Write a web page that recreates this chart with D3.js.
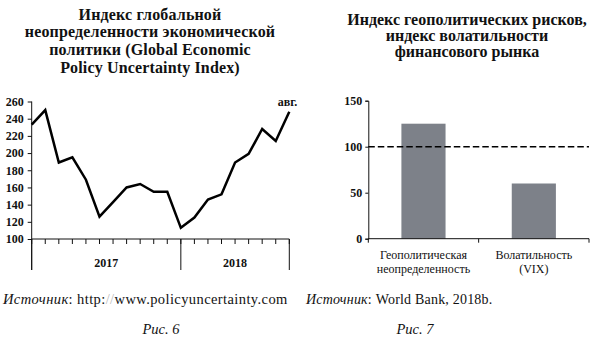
<!DOCTYPE html>
<html>
<head>
<meta charset="utf-8">
<script src="https://cdn.jsdelivr.net/npm/d3@7"></script>
<style>
  html, body { margin: 0; padding: 0; background: #fff; }
  svg { display: block; }
  text { font-family: "Liberation Serif", "Times New Roman", serif; fill: #111; }
</style>
</head>
<body>
<svg id="chart" width="595" height="341"></svg>
<script>
// Figure 6: Global Economic Policy Uncertainty Index, monthly Jan 2017 – Aug 2018
const months = ["янв.17","фев.17","мар.17","апр.17","май.17","июн.17","июл.17","авг.17","сен.17","окт.17","ноя.17","дек.17",
                "янв.18","фев.18","мар.18","апр.18","май.18","июн.18","июл.18","авг.18"];
const gepu = [233, 250, 189, 195, 169, 126, 143, 160, 164, 155, 155, 113,
              125, 146, 152, 189, 199, 228, 214, 248];
const gepuTicks = [100, 120, 140, 160, 180, 200, 220, 240, 260];
const years = [{label: "2017", from: 0, to: 11}, {label: "2018", from: 11, to: 19}];
const lastLabel = "авг.";

// Figure 7: geopolitical risk index vs. market volatility
const riskCats = ["Геополитическая\nнеопределенность", "Волатильность\n(VIX)"];
const riskVals = [125, 60];
const riskTicks = [0, 50, 100, 150];
const riskRef = 100;

const FONT = '"Liberation Serif", "Times New Roman", serif';
const svg = d3.select("#chart");

// ---------- Left panel ----------
const L = {x0: 31.7, x1: 289.3, y0: 239, y1: 101.5};
const xL = d3.scalePoint().domain(d3.range(months.length)).range([L.x0, L.x1]);
const yL = d3.scaleLinear().domain([100, 260]).range([L.y0, L.y1]);

const leftTitle = ["Индекс глобальной", "неопределенности экономической",
                   "политики (Global Economic", "Policy Uncertainty Index)"];
svg.append("text").attr("x", 150).attr("y", 19.5)
  .attr("text-anchor", "middle").attr("font-weight", "bold").attr("font-size", 16)
  .attr("letter-spacing", 0.15)
  .selectAll("tspan").data(leftTitle).join("tspan")
  .attr("x", 150).attr("dy", (d, i) => i ? 17.8 : 0).text(d => d);

const gL = svg.append("g");
// y axis
const yAxisL = d3.axisLeft(yL).tickValues(gepuTicks).tickSize(4).tickPadding(4);
gL.append("g").attr("transform", `translate(${L.x0},0)`).call(yAxisL)
  .call(g => g.select(".domain").remove())
  .call(g => g.selectAll("line").attr("stroke", "#111"))
  .call(g => g.selectAll("text").attr("font-size", 12).attr("font-weight", "bold").style("font-family", FONT));
gL.append("line").attr("x1", L.x0).attr("x2", L.x0).attr("y1", L.y1).attr("y2", 270)
  .attr("stroke", "#111").attr("stroke-width", 1);

// x axis with month ticks
gL.append("line").attr("x1", L.x0).attr("x2", L.x1).attr("y1", L.y0).attr("y2", L.y0)
  .attr("stroke", "#111").attr("stroke-width", 1);
gL.append("g").selectAll("line").data(d3.range(months.length)).join("line")
  .attr("x1", d => xL(d)).attr("x2", d => xL(d)).attr("y1", L.y0).attr("y2", L.y0 + 5)
  .attr("stroke", "#111").attr("stroke-width", 1);
// year separators and labels
gL.append("g").selectAll("line").data([years[0].from, years[0].to, years[1].to]).join("line")
  .attr("x1", d => xL(d)).attr("x2", d => xL(d)).attr("y1", L.y0).attr("y2", 270)
  .attr("stroke", "#111").attr("stroke-width", 1);
gL.append("g").selectAll("text").data(years).join("text")
  .attr("x", d => (xL(d.from) + xL(d.to)) / 2).attr("y", 267)
  .attr("text-anchor", "middle").attr("font-size", 12).attr("font-weight", "bold")
  .text(d => d.label);

// the index line
gL.append("path").datum(gepu)
  .attr("fill", "none").attr("stroke", "#000").attr("stroke-width", 2.5)
  .attr("stroke-linejoin", "miter")
  .attr("d", d3.line().x((d, i) => xL(i)).y(d => yL(d)));
gL.append("text").attr("x", xL(months.length - 1) + 8).attr("y", 106)
  .attr("text-anchor", "end").attr("font-size", 12).attr("font-weight", "bold")
  .text(lastLabel);

// ---------- Right panel ----------
const R = {x0: 368.3, x1: 589, y0: 238.7, y1: 100.7};
const xR = d3.scaleBand().domain(riskCats).range([R.x0, R.x1]).padding(0);
const yR = d3.scaleLinear().domain([0, 150]).range([R.y0, R.y1]);

const rightTitle = ["Индекс геополитических рисков,", "индекс волатильности", "финансового рынка"];
svg.append("text").attr("x", 467).attr("y", 25)
  .attr("text-anchor", "middle").attr("font-weight", "bold").attr("font-size", 16)
  .selectAll("tspan").data(rightTitle).join("tspan")
  .attr("x", 467).attr("dy", (d, i) => i ? 16 : 0).text(d => d);

const gR = svg.append("g");
gR.append("g").attr("transform", `translate(${R.x0},0)`)
  .call(d3.axisLeft(yR).tickValues(riskTicks).tickSize(3).tickPadding(3))
  .call(g => g.select(".domain").attr("stroke", "#111"))
  .call(g => g.selectAll("line").attr("stroke", "#111"))
  .call(g => g.selectAll("text").attr("font-size", 12).attr("font-weight", "bold").style("font-family", FONT));

// bars
const barW = xR.bandwidth() * 0.4;
gR.append("g").selectAll("rect").data(riskVals).join("rect")
  .attr("x", (d, i) => xR(riskCats[i]) + (xR.bandwidth() - barW) / 2)
  .attr("width", barW)
  .attr("y", d => yR(d)).attr("height", d => yR(0) - yR(d))
  .attr("fill", "#7d8189");

// x axis with ticks at category boundaries
gR.append("line").attr("x1", R.x0).attr("x2", R.x1).attr("y1", R.y0).attr("y2", R.y0)
  .attr("stroke", "#111");
gR.append("g").selectAll("line")
  .data([R.x0, ...riskCats.map(c => xR(c) + xR.bandwidth())]).join("line")
  .attr("x1", d => d).attr("x2", d => d).attr("y1", R.y0).attr("y2", R.y0 + 4)
  .attr("stroke", "#111");
gR.append("g").selectAll("text").data(riskCats).join("text")
  .attr("text-anchor", "middle").attr("font-size", 12).attr("y", 259)
  .each(function (d) {
    const cx = xR(d) + xR.bandwidth() / 2;
    d3.select(this).selectAll("tspan").data(d.split("\n")).join("tspan")
      .attr("x", cx).attr("dy", (t, i) => i ? 14 : 0).text(t => t);
  });

// reference line at 100
gR.append("line").attr("x1", R.x0).attr("x2", R.x1)
  .attr("y1", yR(riskRef)).attr("y2", yR(riskRef))
  .attr("stroke", "#000").attr("stroke-width", 1.6).attr("stroke-dasharray", "6.5,3");

// ---------- Sources and figure captions ----------
const src1 = svg.append("text").attr("x", 3).attr("y", 304).attr("font-size", 14.5)
  .attr("letter-spacing", 0.4);
src1.append("tspan").attr("font-style", "italic").text("Источник");
src1.append("tspan").text(": http:");
src1.append("tspan").style("fill", "#bbb").text("//");
src1.append("tspan").text("www.policyuncertainty.com");

const src2 = svg.append("text").attr("x", 306).attr("y", 304).attr("font-size", 14)
  .attr("letter-spacing", 0.2);
src2.append("tspan").attr("font-style", "italic").text("Источник");
src2.append("tspan").text(": World Bank, 2018b.");

svg.append("text").attr("x", 161).attr("y", 334).attr("text-anchor", "middle")
  .attr("font-size", 14.5).attr("font-style", "italic").text("Рис. 6");
svg.append("text").attr("x", 415).attr("y", 334).attr("text-anchor", "middle")
  .attr("font-size", 14.5).attr("font-style", "italic").text("Рис. 7");
</script>
</body>
</html>
